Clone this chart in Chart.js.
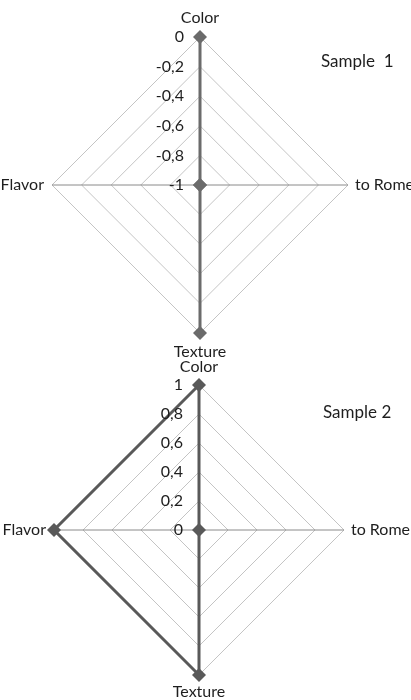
<!DOCTYPE html>
<html>
<head>
<meta charset="utf-8">
<script src="https://cdn.jsdelivr.net/npm/chart.js@4.4.0/dist/chart.umd.min.js"></script>
<style>
  body { margin: 0; background: #fff; width: 411px; height: 700px; overflow: hidden; position: relative; }
  canvas { position: absolute; left: 0; }
  #chart1 { top: 0; }
  #chart2 { top: 350px; }
</style>
</head>
<body>
<canvas id="chart1" width="411" height="370"></canvas>
<canvas id="chart2" width="411" height="350"></canvas>
<script>
// Axis names (clockwise from top)
const axes = ["Color", "to Rome", "Texture", "Flavor"];

// Sample 1 : scale -1 .. 0
const sample1Values = [0, -1, 0, -1];
// Sample 2 : scale 0 .. 1
const sample2Values = [1, 0, 1, 1];

const textColor = "#1e1e1e";
const fontFamily = "Lato, 'Liberation Sans', sans-serif";

// tick labels with decimal comma, like the original
function commaLabel(v) {
  let s = (Math.round(v * 10) / 10).toFixed(1);
  if (s.endsWith(".0")) s = s.slice(0, -2);
  if (s === "-0") s = "0";
  return s.replace(".", ",");
}

// draws point labels, tick labels and the sample title ourselves
const labelsPlugin = {
  id: "labelsPlugin",
  afterDraw(chart, args, opts) {
    const ctx = chart.ctx;
    const scale = chart.scales.r;
    ctx.save();
    ctx.fillStyle = textColor;
    ctx.font = "16px " + fontFamily;
    ctx.textBaseline = "middle";

    // ticks, to the left of the vertical axis
    ctx.textAlign = "right";
    scale.ticks.forEach(t => {
      const d = scale.getDistanceFromCenterForValue(t.value);
      ctx.fillText(t.label, scale.xCenter - 16, scale.yCenter - d);
    });

    // axis names
    axes.forEach((name, i) => {
      const p = scale.getPointPosition(i, scale.drawingArea);
      if (i === 0) {
        ctx.textAlign = "center";
        ctx.fillText(name, p.x, p.y - opts.gapTop);
      } else if (i === 1) {
        ctx.textAlign = "left";
        ctx.fillText(name, p.x + 7, p.y);
      } else if (i === 2) {
        ctx.textAlign = "center";
        ctx.fillText(name, p.x, p.y + opts.gapBottom);
      } else {
        ctx.textAlign = "right";
        ctx.fillText(name, p.x - 8, p.y);
      }
    });

    // title
    ctx.textAlign = "left";
    ctx.font = "17px " + fontFamily;
    ctx.fillText(opts.title, opts.titleX, opts.titleY);
    ctx.restore();
  }
};

function makeRadar(id, values, min, max, lineColor, padding, opts) {
  return new Chart(document.getElementById(id), {
    type: "radar",
    data: {
      labels: axes,
      datasets: [{
        data: values,
        borderColor: lineColor,
        backgroundColor: lineColor,
        borderWidth: 3,
        fill: false,
        pointStyle: "rectRot",
        pointRadius: 7,
        pointBorderWidth: 0,
        pointBackgroundColor: lineColor
      }]
    },
    options: {
      responsive: false,
      animation: false,
      layout: { padding: padding },
      plugins: {
        legend: { display: false },
        tooltip: { enabled: false },
        labelsPlugin: opts
      },
      scales: {
        r: {
          min: min,
          max: max,
          ticks: {
            stepSize: 0.2,
            display: false,
            callback: commaLabel
          },
          pointLabels: { display: false },
          grid: { color: "#c4c4c4", lineWidth: 1 },
          angleLines: { color: "#8a8a8a", lineWidth: 1 }
        }
      }
    },
    plugins: [labelsPlugin]
  });
}

makeRadar("chart1", sample1Values, -1, 0, "#6b6b6b",
  { left: 52, right: 63, top: 37, bottom: 37 },
  { title: "Sample  1", titleX: 321, titleY: 62, gapTop: 19, gapBottom: 19 });

makeRadar("chart2", sample2Values, 0, 1, "#595959",
  { left: 54, right: 67, top: 35, bottom: 25 },
  { title: "Sample 2", titleX: 323, titleY: 63, gapTop: 18, gapBottom: 17 });
</script>
</body>
</html>
